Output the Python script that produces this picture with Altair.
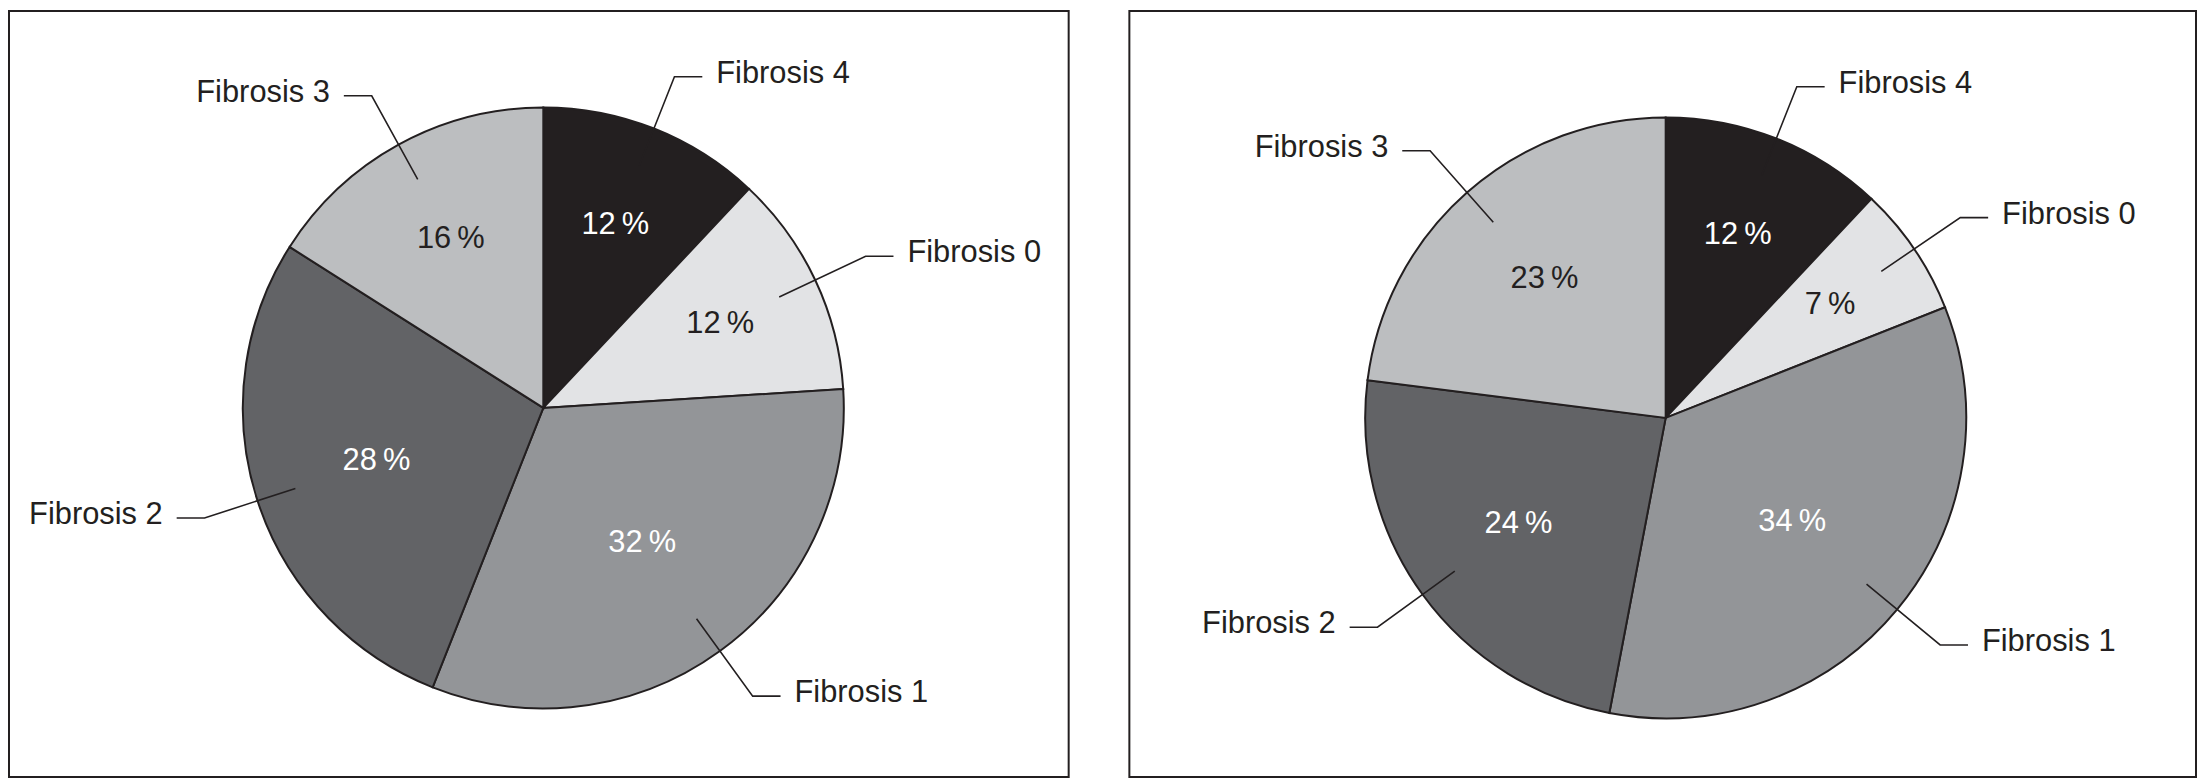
import math
import altair as alt
import pandas as pd

# ---- data (clockwise from 12 o'clock) ----
categories = ["Fibrosis 4", "Fibrosis 0", "Fibrosis 1", "Fibrosis 2", "Fibrosis 3"]
left_values = [12, 12, 32, 28, 16]
right_values = [12, 7, 34, 24, 23]

# ---- styles ----
slice_colors = ["#231f20", "#e2e3e5", "#939598", "#626366", "#bcbec0"]
pct_text_colors = ["#ffffff", "#231f20", "#ffffff", "#ffffff", "#231f20"]
INK = "#231f20"
FONT = "Liberation Sans"
FS = 31

# ---- layout ----
R = 302          # pie radius
R_IN = 262       # leader line start radius
R_ELBOW = 358    # leader line elbow radius
SEG = 28         # horizontal leader segment
GAP = 14         # gap between segment and label
H = 770


def panel(values, width, cx, cy):
    total = sum(values)
    rows, pct_rows, line_rows, lab_rows = [], [], [], []
    cum = 0
    for i, (c, v) in enumerate(zip(categories, values)):
        half = math.pi * v / total
        mid = 2 * math.pi * (cum + v / 2) / total
        cum += v
        s, co = math.sin(mid), -math.cos(mid)
        rows.append(dict(category=c, value=v, idx=i))
        # percentage label at the sector's centroid
        lr = 2 * R * math.sin(half) / (3 * half)
        pct_rows.append(dict(pct=f"{v}\u2009%", x=lr * s, y=lr * co,
                             tc=pct_text_colors[i]))
        # leader line: inside the slice -> elbow -> horizontal segment
        side = 1 if mid < math.pi else -1
        x1, y1 = R_IN * s, R_IN * co
        x2, y2 = R_ELBOW * s, R_ELBOW * co
        x3 = x2 + side * SEG
        for k, (x, y) in enumerate([(x1, y1), (x2, y2), (x3, y2)]):
            line_rows.append(dict(category=c, k=k, x=x, y=y))
        lab_rows.append(dict(category=c, x=x3 + side * GAP, y=y2,
                             side="R" if side > 0 else "L"))

    df = pd.DataFrame(rows)
    pdf = pd.DataFrame(pct_rows)
    ldf = pd.DataFrame(line_rows)
    tdf = pd.DataFrame(lab_rows)

    xs = alt.Scale(domain=[-cx, width - cx], range=[0, width], nice=False, zero=False)
    ys = alt.Scale(domain=[-cy, H - cy], range=[0, H], nice=False, zero=False)
    X = alt.X("x:Q", scale=xs, axis=None)
    Y = alt.Y("y:Q", scale=ys, axis=None)

    arcs = alt.Chart(df).mark_arc(outerRadius=R, stroke=INK, strokeWidth=2).encode(
        theta=alt.Theta("value:Q", stack=True),
        order=alt.Order("idx:Q"),
        color=alt.Color("category:N",
                        scale=alt.Scale(domain=categories, range=slice_colors),
                        legend=None),
        x=alt.value(cx),
        y=alt.value(cy),
    )
    pct = alt.Chart(pdf).mark_text(font=FONT, fontSize=FS, dy=-1).encode(
        x=X, y=Y,
        text="pct:N",
        fill=alt.Fill("tc:N", scale=None, legend=None),
    )
    lines = alt.Chart(ldf).mark_line(color=INK, strokeWidth=1.6).encode(
        x=X, y=Y,
        detail="category:N",
        order="k:Q",
    )
    lab_r = alt.Chart(tdf).transform_filter(alt.datum.side == "R").mark_text(
        font=FONT, fontSize=FS, align="left", color=INK, dy=-3).encode(
        x=X, y=Y, text="category:N",
    )
    lab_l = alt.Chart(tdf).transform_filter(alt.datum.side == "L").mark_text(
        font=FONT, fontSize=FS, align="right", color=INK, dy=-3).encode(
        x=X, y=Y, text="category:N",
    )
    return alt.layer(arcs, pct, lines, lab_r, lab_l).properties(width=width, height=H)


left = panel(left_values, 1065, 537, 399)
right = panel(right_values, 1072, 539, 409)

chart = alt.hconcat(left, right, spacing=59).properties(
    padding=0, background="white"
).configure_view(stroke=INK, strokeWidth=2)

chart.save("out.html", embed_options={"renderer": "svg", "actions": False})
